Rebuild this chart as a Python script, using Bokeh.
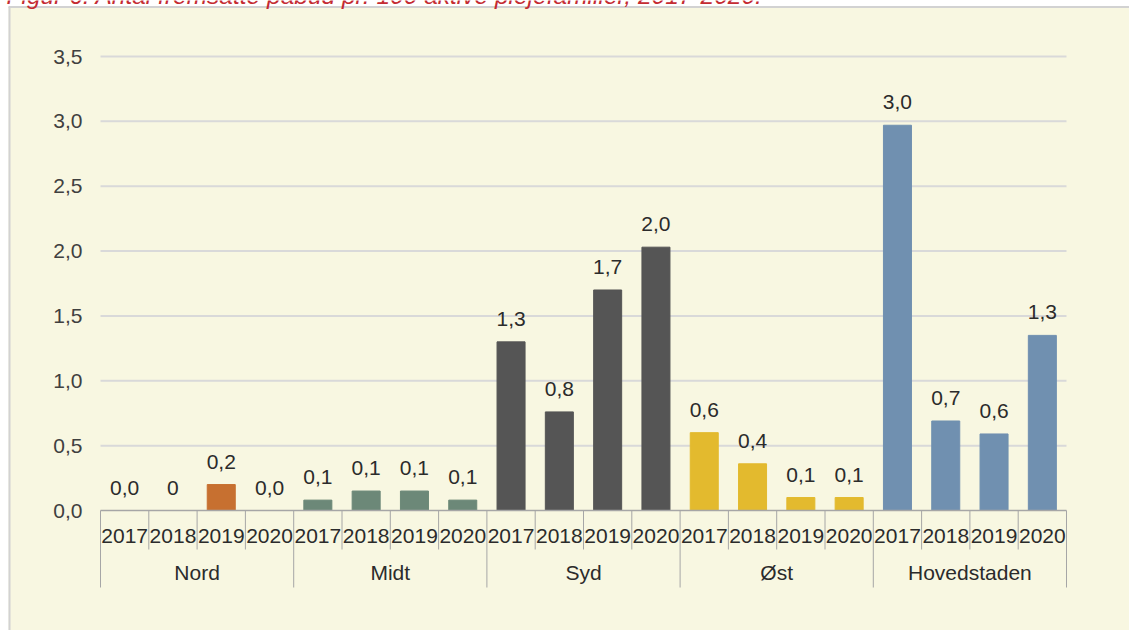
from bokeh.plotting import figure
from bokeh.models import Range1d, ColumnDataSource
from bokeh.core.properties import value
from bokeh.embed import file_html
from bokeh.resources import INLINE

# ---------------- data ----------------
title_text = "Figur 6: Antal fremsatte påbud pr. 100 aktive plejefamilier, 2017-2020."
regions = ["Nord", "Midt", "Syd", "Øst", "Hovedstaden"]
years = ["2017", "2018", "2019", "2020"]

nord_values = [0.0, 0.0, 0.20, 0.0]
midt_values = [0.08, 0.15, 0.15, 0.08]
syd_values = [1.30, 0.76, 1.70, 2.03]
oest_values = [0.60, 0.36, 0.10, 0.10]
hoved_values = [2.97, 0.69, 0.59, 1.35]

nord_labels = ["0,0", "0", "0,2", "0,0"]
midt_labels = ["0,1", "0,1", "0,1", "0,1"]
syd_labels = ["1,3", "0,8", "1,7", "2,0"]
oest_labels = ["0,6", "0,4", "0,1", "0,1"]
hoved_labels = ["3,0", "0,7", "0,6", "1,3"]

region_colors = ["#C77030", "#6C8878", "#555555", "#E3BA2E", "#7090B0"]

y_ticks = [0.0, 0.5, 1.0, 1.5, 2.0, 2.5, 3.0, 3.5]
y_tick_labels = ["0,0", "0,5", "1,0", "1,5", "2,0", "2,5", "3,0", "3,5"]

all_values = [nord_values, midt_values, syd_values, oest_values, hoved_values]
all_labels = [nord_labels, midt_labels, syd_labels, oest_labels, hoved_labels]

# ---------------- layout (picture pixels) ----------------
FIG_LEFT, FIG_TOP, W, H = 0, 0, 1129, 630
PLOT_X0, PLOT_X1 = 100, 1066
ZERO_Y, TOP_TICK_Y = 510, 56

n_years = len(years)
n_cats = len(regions) * n_years
ux = (PLOT_X1 - PLOT_X0) / n_cats
uy = (ZERO_Y - TOP_TICK_Y) / y_ticks[-1]


def dx(px):
    return (px - PLOT_X0) / ux


def dy(py):
    return (ZERO_Y - py) / uy


x_start, x_end = dx(FIG_LEFT), dx(FIG_LEFT + W)
y_start, y_end = dy(FIG_TOP + H), dy(FIG_TOP)

FONT = value("Liberation Sans")
FS = value("21px")

p = figure(width=W, height=H, x_range=Range1d(x_start, x_end),
           y_range=Range1d(y_start, y_end), x_axis_type=None, y_axis_type=None,
           output_backend="svg", toolbar_location=None, min_border=0,
           min_border_left=0, min_border_right=0, min_border_top=0,
           min_border_bottom=0)
p.outline_line_color = None
p.background_fill_color = "white"
p.border_fill_color = "white"
p.grid.visible = False

# panel
panel_top = dy(6.5)
p.quad(left=[dx(8)], right=[x_end], top=[panel_top], bottom=[y_start],
       fill_color="#F8F7E1", line_color=None)
p.segment(x0=[dx(8)], x1=[x_end], y0=[panel_top], y1=[panel_top],
          line_color="#D2D2D2", line_width=2)
p.segment(x0=[dx(9)], x1=[dx(9)], y0=[panel_top], y1=[y_start],
          line_color="#D2D2D2", line_width=2)

# title (partly cut off at the top edge, as in the reference)
p.text(x=[dx(6)], y=[dy(-5)], text=[title_text], text_font=FONT,
       text_font_size=value("24.5px"), text_font_style="italic",
       text_color="#C42B32", text_align="left", text_baseline="middle")

# gridlines
grid_y = [t for t in y_ticks if t > 0]
p.segment(x0=[0] * len(grid_y), x1=[n_cats] * len(grid_y), y0=grid_y, y1=grid_y,
          line_color="#D9D9D9", line_width=2)

# y tick labels
p.text(x=[0] * len(y_ticks), y=y_ticks, text=y_tick_labels, x_offset=-18,
       text_font=FONT, text_font_size=FS, text_color="#404040",
       text_align="right", text_baseline="middle")

# bars
xs, tops, cols, labs = [], [], [], []
for g, (vals, lbls) in enumerate(zip(all_values, all_labels)):
    for k, (v, l) in enumerate(zip(vals, lbls)):
        xs.append(g * n_years + k + 0.5)
        tops.append(v)
        cols.append(region_colors[g])
        labs.append(l)
src = ColumnDataSource(dict(x=xs, top=tops, color=cols, label=labs,
                            year=years * len(regions)))
p.vbar(x="x", top="top", bottom=0, width=0.58, fill_color="color",
       line_color="color", source=src)

# value labels
p.text(x="x", y="top", text="label", y_offset=-23, source=src, text_font=FONT,
       text_font_size=FS, text_color="#2B2B2B", text_align="center",
       text_baseline="middle")

# x axis line
p.segment(x0=[0], x1=[n_cats], y0=[0], y1=[0], line_color="#A6A6A6",
          line_width=1.5)

# separators
year_sep = [k for k in range(n_cats + 1) if k % n_years != 0]
group_sep = [k for k in range(n_cats + 1) if k % n_years == 0]
p.segment(x0=year_sep, x1=year_sep, y0=[0] * len(year_sep),
          y1=[dy(549)] * len(year_sep), line_color="#A6A6A6", line_width=1)
p.segment(x0=group_sep, x1=group_sep, y0=[0] * len(group_sep),
          y1=[dy(587)] * len(group_sep), line_color="#A6A6A6", line_width=1)

# year labels
p.text(x="x", y=0, text="year", y_offset=25, source=src, text_font=FONT,
       text_font_size=FS, text_color="#2B2B2B", text_align="center",
       text_baseline="middle")

# region labels
gx = [g * n_years + n_years / 2 for g in range(len(regions))]
p.text(x=gx, y=[0] * len(gx), text=regions, y_offset=62, text_font=FONT,
       text_font_size=FS, text_color="#2B2B2B", text_align="center",
       text_baseline="middle")

open("out.html", "w").write(file_html(p, INLINE))
